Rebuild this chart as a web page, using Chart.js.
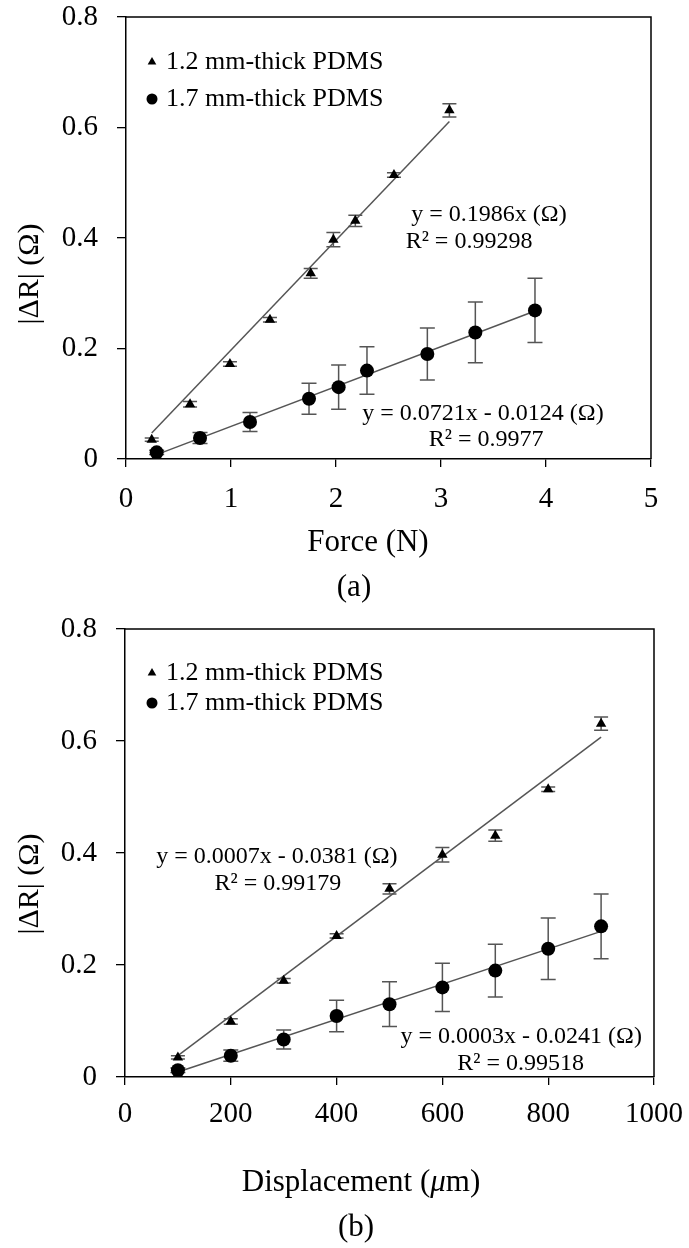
<!DOCTYPE html>
<html>
<head>
<meta charset="utf-8">
<script src="https://cdn.jsdelivr.net/npm/chart.js@4.4.0/dist/chart.umd.min.js"></script>
<style>
  html, body { margin: 0; padding: 0; background: #fff; }
  #wrap { position: relative; width: 689px; height: 1248px; overflow: hidden; background: #fff; }
  #chartA { position: absolute; left: 0; top: 0; width: 689px; height: 615px; }
  #chartB { position: absolute; left: 0; top: 600px; width: 689px; height: 648px; }
</style>
</head>
<body>
<div id="wrap">
  <canvas id="chartA" width="689" height="615"></canvas>
  <canvas id="chartB" width="689" height="648"></canvas>
</div>
<script>
// --- data ---
const seriesLabels = ['1.2 mm-thick PDMS', '1.7 mm-thick PDMS'];

const forceTri  = [0.245, 0.61, 0.99, 1.371, 1.759, 1.975, 2.184, 2.552, 3.08];
const forceCirc = [0.292, 0.705, 1.181, 1.743, 2.025, 2.295, 2.87, 3.327, 3.895];
const dispX     = [100, 200, 300, 400, 500, 600, 700, 800, 900];

const dRTri     = [0.035, 0.099, 0.172, 0.252, 0.336, 0.397, 0.431, 0.514, 0.631];
const dRTriErr  = [0.003, 0.005, 0.004, 0.004, 0.009, 0.013, 0.010, 0.004, 0.012];
const dRCirc    = [0.012, 0.038, 0.067, 0.109, 0.130, 0.160, 0.190, 0.229, 0.269];
const dRCircErr = [0.004, 0.010, 0.017, 0.028, 0.040, 0.043, 0.047, 0.055, 0.058];

// trend line end points [x, y]
const fitForceTri  = [[0.245, 0.047], [3.08, 0.611]];
const fitForceCirc = [[0.292, 0.008], [3.895, 0.268]];
const fitDispTri   = [[100, 0.038], [900, 0.607]];
const fitDispCirc  = [[100, 0.009], [900, 0.260]];

const yTicks  = ['0', '0.2', '0.4', '0.6', '0.8'];
const xTicksA = ['0', '1', '2', '3', '4', '5'];
const xTicksB = ['0', '200', '400', '600', '800', '1000'];

const SERIF = "'Liberation Serif', 'Times New Roman', serif";
Chart.defaults.font.family = SERIF;
Chart.defaults.color = '#000';

const toPts = (xs, ys) => xs.map((x, i) => ({ x: x, y: ys[i] }));

// error bars, frame, legend, equations, titles
const decor = {
  id: 'decor',
  beforeDatasetsDraw(chart) {
    const ctx = chart.ctx;
    const sx = chart.scales.x, sy = chart.scales.y;
    ctx.save();
    ctx.strokeStyle = '#555';
    ctx.lineWidth = 1.5;
    chart.data.datasets.forEach(ds => {
      if (!ds.errors) return;
      ds.data.forEach((p, i) => {
        const px = sx.getPixelForValue(p.x);
        const top = sy.getPixelForValue(p.y + ds.errors[i]);
        const bot = sy.getPixelForValue(p.y - ds.errors[i]);
        const c = ds.capHalf;
        ctx.beginPath();
        ctx.moveTo(px, top); ctx.lineTo(px, bot);
        ctx.moveTo(px - c, top); ctx.lineTo(px + c, top);
        ctx.moveTo(px - c, bot); ctx.lineTo(px + c, bot);
        ctx.stroke();
      });
    });
    ctx.restore();
  },
  afterDraw(chart, args, opts) {
    const ctx = chart.ctx;
    const area = chart.chartArea;
    const sx = chart.scales.x, sy = chart.scales.y;
    ctx.save();

    // top and right frame
    ctx.strokeStyle = '#000';
    ctx.lineWidth = 1.5;
    ctx.beginPath();
    ctx.moveTo(area.left, area.top);
    ctx.lineTo(area.right, area.top);
    ctx.lineTo(area.right, area.bottom);
    ctx.stroke();

    // legend
    ctx.fillStyle = '#000';
    ctx.textBaseline = 'middle';
    ctx.textAlign = 'left';
    ctx.font = '26px ' + SERIF;
    let row = 0;
    chart.data.datasets.forEach(ds => {
      if (ds.isFit) return;
      const y = area.top + opts.legend.rows[row];
      Chart.helpers.drawPoint(ctx, { pointStyle: ds.pointStyle, radius: ds.legendRadius, rotation: 0, borderWidth: 0 },
        area.left + opts.legend.dx, y);
      ctx.fillStyle = '#000';
      ctx.fillText(ds.label, area.left + opts.legend.textDx, y);
      row++;
    });

    // trend-line equations
    ctx.font = '24px ' + SERIF;
    ctx.textAlign = 'center';
    opts.notes.forEach(n => {
      ctx.fillText(n.text, sx.getPixelForValue(n.x), sy.getPixelForValue(n.y));
    });

    // x title (parts allow italic glyphs)
    const xt = opts.xTitle;
    const fontFor = p => (p.italic ? 'italic ' : '') + '31px ' + SERIF;
    let total = 0;
    xt.parts.forEach(p => { ctx.font = fontFor(p); total += ctx.measureText(p.text).width; });
    let cx = xt.x - total / 2;
    ctx.textAlign = 'left';
    xt.parts.forEach(p => {
      ctx.font = fontFor(p);
      ctx.fillText(p.text, cx, xt.y);
      cx += ctx.measureText(p.text).width;
    });

    // caption
    ctx.textAlign = 'center';
    ctx.font = '31px ' + SERIF;
    ctx.fillText(opts.caption.text, opts.caption.x, opts.caption.y);

    // y title
    ctx.translate(opts.yTitle.x, opts.yTitle.y);
    ctx.rotate(-Math.PI / 2);
    ctx.font = '30px ' + SERIF;
    ctx.fillText(opts.yTitle.text, 0, 0);
    ctx.restore();
  }
};

function buildChart(canvasId, s) {
  const datasets = [
    { label: seriesLabels[0], data: s.tri, pointStyle: 'triangle', pointRadius: 6, legendRadius: 5,
      backgroundColor: '#000', borderColor: '#000', pointBorderWidth: 0,
      errors: dRTriErr, capHalf: 7, order: 1 },
    { label: seriesLabels[1], data: s.circ, pointStyle: 'circle', pointRadius: 7, legendRadius: 5.5,
      backgroundColor: '#000', borderColor: '#000', pointBorderWidth: 0,
      errors: dRCircErr, capHalf: 7.5, order: 1 },
    { label: 'fit1', isFit: true, data: s.fitTri.map(p => ({ x: p[0], y: p[1] })), showLine: true,
      pointRadius: 0, borderColor: '#555', borderWidth: 1.5, order: 2 },
    { label: 'fit2', isFit: true, data: s.fitCirc.map(p => ({ x: p[0], y: p[1] })), showLine: true,
      pointRadius: 0, borderColor: '#555', borderWidth: 1.5, order: 2 }
  ];

  return new Chart(document.getElementById(canvasId), {
    type: 'scatter',
    data: { datasets },
    plugins: [decor],
    options: {
      responsive: false,
      animation: false,
      layout: { padding: { top: s.padTop, right: s.padRight, left: 0, bottom: 0 } },
      plugins: {
        legend: { display: false },
        tooltip: { enabled: false },
        decor: s.decor
      },
      scales: {
        x: {
          type: 'linear', min: 0, max: s.xMax,
          afterFit: sc => { sc.height = s.xAxisHeight; sc.paddingLeft = 0; sc.paddingRight = 0; },
          ticks: { stepSize: s.xStep, padding: s.xTickPad, font: { size: 29, lineHeight: 1 },
                   maxRotation: 0, callback: (v, i) => s.xTicks[i] },
          grid: { drawOnChartArea: false, tickLength: 8, color: '#000', lineWidth: 1.3 },
          border: { color: '#000', width: 1.5 }
        },
        y: {
          type: 'linear', min: 0, max: 0.8,
          afterFit: sc => { sc.width = s.yAxisWidth; sc.paddingTop = 0; sc.paddingBottom = 0; },
          ticks: { stepSize: 0.2, padding: 19, font: { size: 29, lineHeight: 1 },
                   callback: (v, i) => yTicks[i] },
          grid: { drawOnChartArea: false, tickLength: 9, color: '#000', lineWidth: 1.3 },
          border: { color: '#000', width: 1.5 }
        }
      }
    }
  });
}

buildChart('chartA', {
  tri: toPts(forceTri, dRTri), circ: toPts(forceCirc, dRCirc),
  fitTri: fitForceTri, fitCirc: fitForceCirc,
  xMax: 5, xStep: 1, xTicks: xTicksA,
  padTop: 17, padRight: 38, yAxisWidth: 126, xAxisHeight: 156, xTickPad: 18,
  decor: {
    legend: { dx: 26, textDx: 40, rows: [45, 82] },
    notes: [
      { text: 'y = 0.1986x (Ω)', x: 3.457, y: 0.4416 },
      { text: 'R² = 0.99298', x: 3.267, y: 0.3933 },
      { text: 'y = 0.0721x - 0.0124 (Ω)', x: 3.40, y: 0.0827 },
      { text: 'R² = 0.9977', x: 3.429, y: 0.0344 }
    ],
    xTitle: { parts: [{ text: 'Force (N)' }], x: 368, y: 543 },
    caption: { text: '(a)', x: 354, y: 588 },
    yTitle: { text: '|ΔR| (Ω)', x: 30, y: 274 }
  }
});

buildChart('chartB', {
  tri: toPts(dispX, dRTri), circ: toPts(dispX, dRCirc),
  fitTri: fitDispTri, fitCirc: fitDispCirc,
  xMax: 1000, xStep: 200, xTicks: xTicksB,
  padTop: 29, padRight: 35, yAxisWidth: 125, xAxisHeight: 171, xTickPad: 15,
  decor: {
    legend: { dx: 27, textDx: 41, rows: [44, 74] },
    notes: [
      { text: 'y = 0.0007x - 0.0381 (Ω)', x: 287, y: 0.393 },
      { text: 'R² = 0.99179', x: 289, y: 0.3456 },
      { text: 'y = 0.0003x - 0.0241 (Ω)', x: 749, y: 0.0715 },
      { text: 'R² = 0.99518', x: 748, y: 0.0239 }
    ],
    xTitle: { parts: [{ text: 'Displacement (' }, { text: 'μ', italic: true }, { text: 'm)' }], x: 361, y: 583 },
    caption: { text: '(b)', x: 356, y: 628 },
    yTitle: { text: '|ΔR| (Ω)', x: 30, y: 284 }
  }
});
</script>
</body>
</html>
